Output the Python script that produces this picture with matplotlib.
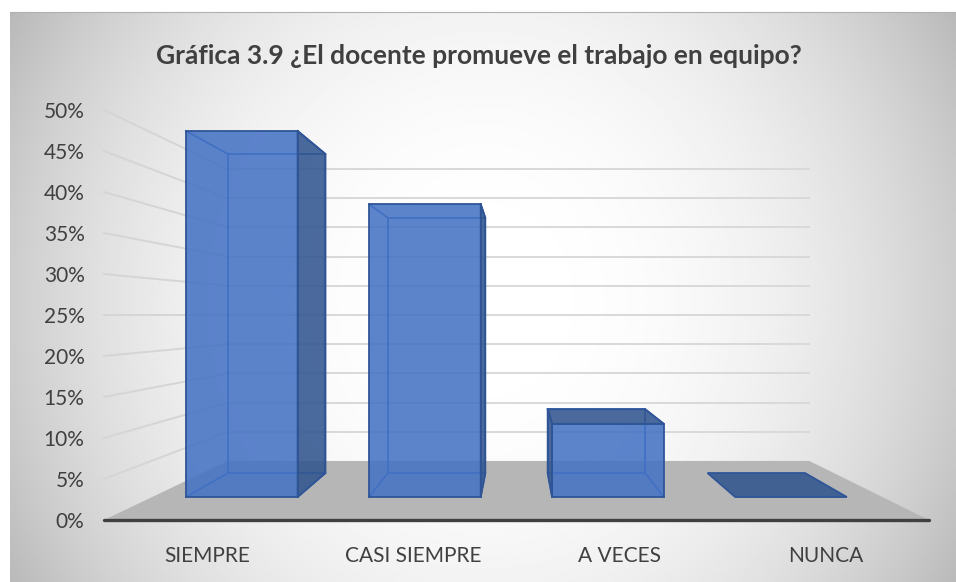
import matplotlib
matplotlib.use('Agg')
import matplotlib.pyplot as plt
import numpy as np
from matplotlib.patches import Polygon

categories = ['SIEMPRE', 'CASI SIEMPRE', 'A VECES', 'NUNCA']
values = [50, 40, 10, 0]
y_ticks = [0, 5, 10, 15, 20, 25, 30, 35, 40, 45, 50]
title = 'Gráfica 3.9 ¿El docente promueve el trabajo en equipo?'

W, H = 956, 582
plt.rcParams['font.family'] = ['Lato', 'DejaVu Sans']

# planos de profundidad en unidades del eje: izquierda, derecha, base, escala
FRONT = (0.0, 4.0, 0.0, 1.0)
BAR_FRONT = (0.224, 3.775, 2.8, 0.893)
BAR_BACK = (0.45, 3.55, 5.73, 0.778)
WALL = (0.6, 3.42, 7.2, 0.712)
BAR_W = 0.61


def project(pos, val, plane):
    left, right, base, scale = plane
    return left + pos / 4 * (right - left), base + val * scale


def face(ax, pts, color, alpha, edge='#2f5597', lw=1.3, z=3):
    ax.add_patch(Polygon(pts, closed=True, facecolor=color, alpha=alpha, edgecolor='none', zorder=z, clip_on=False))
    ax.add_patch(Polygon(pts, closed=True, fill=False, edgecolor=edge, linewidth=lw, zorder=z + 0.5, clip_on=False))


fig = plt.figure(figsize=(W / 100, H / 100), dpi=100, facecolor='white')

# fondo con degradado radial
bx0, by0, bx1, by1 = 10, 12, 956, 582
bg = fig.add_axes([bx0 / W, 1 - by1 / H, (bx1 - bx0) / W, (by1 - by0) / H], zorder=0)
xx, yy = np.meshgrid(np.linspace(bx0, bx1, 400), np.linspace(by0, by1, 300))
r = np.sqrt(((xx - 483) / 467) ** 2 + ((yy - 300) / 500) ** 2)
shade = 1 - 0.19 * r ** 2.4
bg.imshow(shade, cmap='gray', vmin=0, vmax=1, aspect='auto')
bg.set_xticks([])
bg.set_yticks([])
for s in ['left', 'right', 'bottom']:
    bg.spines[s].set_visible(False)
bg.spines['top'].set_color('#b0b0b0')
bg.spines['top'].set_linewidth(0.8)

ax = fig.add_axes([104 / W, 1 - 520 / H, 825 / W, 410 / H], zorder=1)
ax.patch.set_alpha(0)
ax.set_xlim(0, 4)
ax.set_ylim(0, 50)

# piso
floor = [project(0, 0, FRONT), project(4, 0, FRONT), project(4, 0, WALL), project(0, 0, WALL)]
ax.add_patch(Polygon(floor, closed=True, facecolor='#b6b6b6', edgecolor='none', zorder=1, clip_on=False))

# rejilla
for t in y_ticks[1:]:
    x0, y0 = project(0, t, FRONT)
    x1, y1 = project(0, t, WALL)
    x2, y2 = project(4, t, WALL)
    ax.plot([x0, x1], [y0, y1], color='#d5d5d5', lw=1.4, zorder=2, clip_on=False)
    ax.plot([x1, x2], [y1, y2], color='#d9d9d9', lw=1.4, zorder=2, clip_on=False)

# barras
for i, v in enumerate(values):
    p0, p1 = i + 0.5 - BAR_W / 2, i + 0.5 + BAR_W / 2
    f00, f10 = project(p0, 0, BAR_FRONT), project(p1, 0, BAR_FRONT)
    f01, f11 = project(p0, v, BAR_FRONT), project(p1, v, BAR_FRONT)
    b00, b10 = project(p0, 0, BAR_BACK), project(p1, 0, BAR_BACK)
    b01, b11 = project(p0, v, BAR_BACK), project(p1, v, BAR_BACK)
    dark = '#32558f'
    light = '#2f62b8'
    if v > 0:
        # caras ocultas, solo aristas
        for a, b in [(b00, b10), (b00, b01), (b10, b11), (b01, b11), (f00, b00), (f10, b10), (f01, b01), (f11, b11)]:
            ax.plot([a[0], b[0]], [a[1], b[1]], color=light, lw=1.2, zorder=3, clip_on=False)
        face(ax, [f00, f10, f11, f01], '#4472c4', 0.87, z=3)
        # caras visibles, mas oscuras
        if b11[0] > f11[0]:
            face(ax, [f10, b10, b11, f11], dark, 0.88, z=4)
        if b01[0] < f01[0]:
            face(ax, [f00, b00, b01, f01], dark, 0.88, z=4)
    if b01[1] > f01[1]:
        face(ax, [f01, f11, b11, b01], dark, 0.88, z=4)

ax.set_xticks([i + 0.5 for i in range(len(categories))])
ax.set_xticklabels(categories)
ax.set_yticks(y_ticks)
ax.set_yticklabels([f'{t}%' for t in y_ticks])
ax.tick_params(axis='both', length=0, labelsize=15, labelcolor='#404040')
ax.tick_params(axis='x', pad=19)
ax.tick_params(axis='y', pad=14)
for s in ['top', 'left', 'right']:
    ax.spines[s].set_visible(False)
ax.spines['bottom'].set_linewidth(2.4)
ax.spines['bottom'].set_color('#404040')
ax.spines['bottom'].set_capstyle('round')
ax.spines['bottom'].set_zorder(6)

fig.text(478.5 / W, 1 - 56 / H, title, ha='center', va='center', fontsize=19, fontweight='bold', color='#404040')

fig.savefig('out.png', dpi=100)
